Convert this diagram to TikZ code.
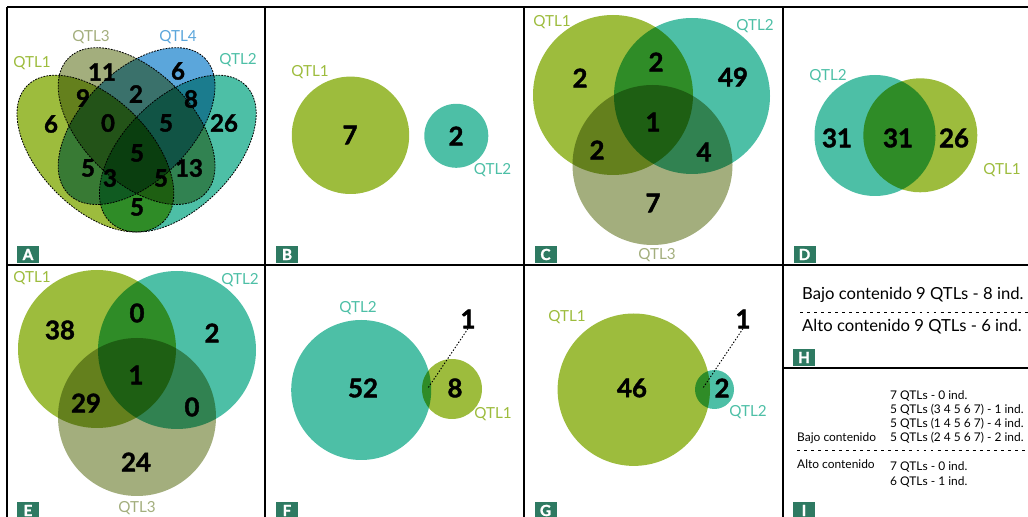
\documentclass[tikz,border=0pt]{standalone}
\usepackage{fontspec}
\setmainfont{Lato}
\newfontfamily\heavyfont{Lato}[BoldFeatures={FakeBold=1.6}]
\usetikzlibrary{positioning}
\definecolor{qone}{RGB}{157,188,61}
\definecolor{qtwo}{RGB}{77,191,166}
\definecolor{qthree}{RGB}{163,174,125}
\definecolor{qfour}{RGB}{91,166,219}
\definecolor{tagcol}{RGB}{46,122,98}

\begin{document}
\begin{tikzpicture}[
    x = 0.03cm, y = -0.03cm,
    frame/.style = {line width=1.7pt, black},
    num/.style = {font=\heavyfont\bfseries\fontsize{22}{22}\selectfont, inner sep=0pt},
    numA/.style = {font=\heavyfont\bfseries\fontsize{20.5}{20.5}\selectfont, inner sep=0pt},
    lbl/.style = {font=\fontsize{13}{13}\selectfont, inner sep=0pt},
    tag/.style = {
        fill=tagcol,
        text=white,
        font=\heavyfont\bfseries\fontsize{13}{13}\selectfont,
        minimum width=0.66cm,
        minimum height=0.51cm,
        inner sep=0pt
    },
    outline/.style = {draw=black, line width=0.7pt, dash pattern=on 1.5pt off 1pt},
    leader/.style = {line width=0.8pt, dash pattern=on 1.2pt off 1.5pt},
    sep/.style = {line width=0.8pt, dash pattern=on 2.5pt off 3.5pt},
    htxt/.style = {font=\fontsize{14.2}{14.2}\selectfont, inner sep=0pt, anchor=base west},
    itxt/.style = {font=\fontsize{10.2}{10.2}\selectfont, inner sep=0pt, anchor=base west}
]
\useasboundingbox (0,0) rectangle (1028,517);

% panel A
\begin{scope}[blend group=multiply]
    \fill[qone,   rotate around={-45:(95.4,153.6)}]  (95.4,153.6)  ellipse (96.25 and 55);
    \fill[qthree, rotate around={-45:(136.6,126.1)}] (136.6,126.1) ellipse (96.25 and 55);
    \fill[qfour,  rotate around={45:(136.6,126.1)}]  (136.6,126.1) ellipse (96.25 and 55);
    \fill[qtwo,   rotate around={45:(177.8,153.6)}]  (177.8,153.6) ellipse (96.25 and 55);
\end{scope}
\foreach \cx/\cy/\ang in {95.4/153.6/-45, 136.6/126.1/-45, 136.6/126.1/45, 177.8/153.6/45}
    \draw[outline, rotate around={\ang:(\cx,\cy)}] (\cx,\cy) ellipse (96.25 and 55);

\node[lbl, text=qone]   (aL1) at (32,63)  {QTL1};
\node[lbl, text=qthree] (aL3) at (91,37)  {QTL3};
\node[lbl, text=qfour]  (aL4) at (178,37) {QTL4};
\node[lbl, text=qtwo]   (aL2) at (238,60) {QTL2};

\node[numA] (a1)  at (51,124)  {6};
\node[numA] (a2)  at (102,72)  {11};
\node[numA] (a3)  at (178,71)  {6};
\node[numA] (a4)  at (224,123) {26};
\node[numA] (a5)  at (83,98)   {9};
\node[numA] (a6)  at (136,94)  {2};
\node[numA] (a7)  at (191,99)  {8};
\node[numA] (a8)  at (108,123) {0};
\node[numA] (a9)  at (166,123) {5};
\node[numA] (a10) at (137,153) {5};
\node[numA] (a11) at (88,168)  {5};
\node[numA] (a12) at (110,178) {3};
\node[numA] (a13) at (161,178) {5};
\node[numA] (a14) at (189,168) {13};
\node[numA] (a15) at (137,207) {5};

% panel B
\fill[qone] (350.5,135.3) circle (58.7);
\fill[qtwo] (456.3,135.8) circle (32);
\node[lbl, text=qone] (bL1) at (310,72)    {QTL1};
\node[lbl, text=qtwo] (bL2) at (492.5,170) {QTL2};
\node[num] (b1) at (350,135) {7};
\node[num] (b2) at (456,136) {2};

% panel C
\begin{scope}[blend group=multiply]
    \fill[qone]   (613,95)    circle (80);
    \fill[qtwo]   (692,96)    circle (78);
    \fill[qthree] (652.5,165) circle (80);
\end{scope}
\node[lbl, text=qone]   (cL1) at (552,22)  {QTL1};
\node[lbl, text=qtwo]   (cL2) at (755,26)  {QTL2};
\node[lbl, text=qthree] (cL3) at (657,255) {QTL3};
\node[num] (c1) at (580,78)  {2};
\node[num] (c2) at (656,62)  {2};
\node[num] (c3) at (733,77)  {49};
\node[num] (c4) at (653,122) {1};
\node[num] (c5) at (597,150) {2};
\node[num] (c6) at (704,152) {4};
\node[num] (c7) at (653,203) {7};

% panel D
\begin{scope}[blend group=multiply]
    \fill[qtwo] (875,135.5)   circle (60.5);
    \fill[qone] (920.3,135.3) circle (57);
\end{scope}
\node[lbl, text=qtwo] (dL2) at (828,76)   {QTL2};
\node[lbl, text=qone] (dL1) at (1002,170) {QTL1};
\node[num] (d1) at (837,138) {31};
\node[num] (d2) at (898,138) {31};
\node[num] (d3) at (954,138) {26};

% panel E
\begin{scope}[blend group=multiply]
    \fill[qone]   (97,349)  circle (79);
    \fill[qtwo]   (177,350) circle (79);
    \fill[qthree] (137,417) circle (79);
\end{scope}
\node[lbl, text=qone]   (eL1) at (32,278)  {QTL1};
\node[lbl, text=qtwo]   (eL2) at (240,280) {QTL2};
\node[lbl, text=qthree] (eL3) at (137,508) {QTL3};
\node[num] (e1) at (60,330)  {38};
\node[num] (e2) at (137,313) {0};
\node[num] (e3) at (212,333) {2};
\node[num] (e4) at (136,375) {1};
\node[num] (e5) at (86,403)  {29};
\node[num] (e6) at (192,407) {0};
\node[num] (e7) at (136,462) {24};

% panel F
\begin{scope}[blend group=multiply]
    \fill[qtwo] (361.2,390) circle (70);
    \fill[qone] (452,389)   circle (30);
\end{scope}
\node[lbl, text=qtwo] (fL2) at (358,308) {QTL2};
\node[lbl, text=qone] (fL1) at (493,414) {QTL1};
\node[num] (f1) at (363,388) {52};
\node[num] (f2) at (455,388) {8};
\node[num] (f3) at (468,319) {1};
\coordinate (fx) at (428,388);
\draw[leader] (f3.south) -- (fx);

% panel G
\begin{scope}[blend group=multiply]
    \fill[qone] (633.8,389.7) circle (76.2);
    \fill[qtwo] (714.5,389.5) circle (19.5);
\end{scope}
\node[lbl, text=qone] (gL1) at (567,317) {QTL1};
\node[lbl, text=qtwo] (gL2) at (748,412) {QTL2};
\node[num] (g1) at (632,388) {46};
\node[num] (g2) at (722,388) {2};
\node[num] (g3) at (743,319) {1};
\coordinate (gx) at (703,388);
\draw[leader] (g3.south) -- (gx);

% panel H
\node[htxt] (h1) at (802,300) {Bajo contenido 9 QTLs - 8 ind.};
\draw[sep] (800,312) -- (1030,312);
\node[htxt] (h2) at (802,332) {Alto contenido 9 QTLs - 6 ind.};

% panel I
\foreach \txt [count=\i from 0] in {7 QTLs - 0 ind., 5 QTLs (3 4 5 6 7) - 1 ind., 5 QTLs (1 4 5 6 7) - 4 ind., 5 QTLs (2 4 5 6 7) - 2 ind.}
    \node[itxt] (ib\i) at (890,400+14*\i) {\txt};
\node[itxt] (ibajo) at (797,442) {Bajo contenido};
\draw[sep] (797,450) -- (1030,450);
\node[itxt] (ialto) at (797,469) {Alto contenido};
\node[itxt] (ia0) at (890,471) {7 QTLs - 0 ind.};
\node[itxt] (ia1) at (890,486) {6 QTLs - 1 ind.};

% frames
\draw[frame] (7,7) -- (1030,7);
\draw[frame] (7,265) -- (1030,265);
\draw[frame] (783,368) -- (1030,368);
\foreach \vx in {7,265,524,783}
    \draw[frame] (\vx,7) -- (\vx,522);

% tags
\node[tag] (tA) at (28,254.5)  {A};
\node[tag] (tB) at (287,254.5) {B};
\node[tag] (tC) at (545.5,254.5) {C};
\node[tag] (tD) at (804.5,254.5) {D};
\node[tag] (tH) at (804,357.5) {H};
\node[tag] (tE) at (28,510.5)  {E};
\node[tag] (tF) at (287,510.5) {F};
\node[tag] (tG) at (545.5,510.5) {G};
\node[tag] (tI) at (804,510.5) {I};
\end{tikzpicture}
\end{document}
